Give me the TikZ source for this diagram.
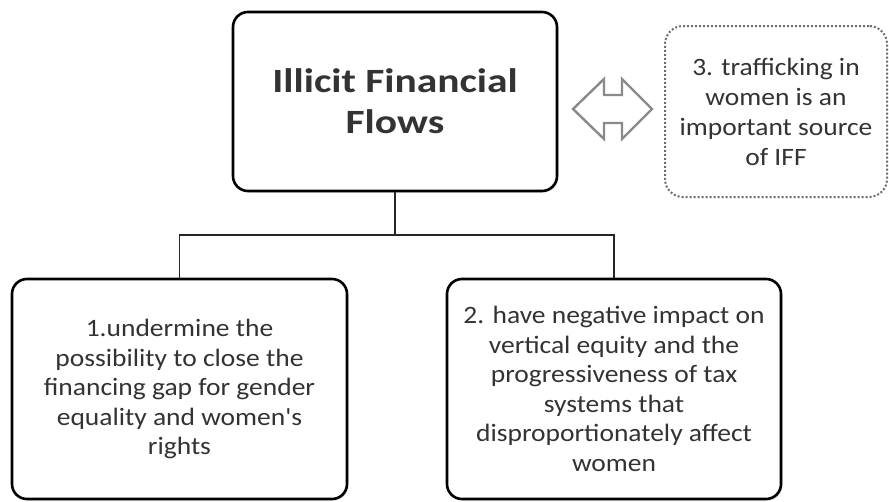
\documentclass[tikz,border=0pt]{standalone}
\usepackage{fontspec}
\setmainfont{Carlito}
\newfontfamily\bodyfont[FakeStretch=1.1]{Carlito}
\newfontfamily\titlefont[FakeStretch=1.22]{Carlito}
\usetikzlibrary{shadows}
\definecolor{txt}{HTML}{333333}
\definecolor{arrowgray}{HTML}{8A8A8A}
\definecolor{dotgray}{HTML}{6E6E6E}
\begin{document}
\begin{tikzpicture}[x=1pt,y=-1pt,
  box/.style={draw=black, line width=2.6pt, rounded corners=15pt, fill=white,
    inner sep=0pt, align=center, text=txt,
    drop shadow={opacity=0.25, shadow xshift=1.5pt, shadow yshift=-1.5pt}},
  bodytext/.style={font=\bodyfont\fontsize{25}{29.5}\selectfont},
  dotbox/.style={draw=dotgray, line width=2pt, dotted, rounded corners=18pt, fill=white,
    inner sep=0pt, align=center, text=txt, font=\bodyfont\fontsize{25}{30}\selectfont},
  link/.style={draw=black!85, line width=1.8pt},
  dblarrow/.style={draw=arrowgray, line width=2.4pt, line join=miter, fill=white}
]
\useasboundingbox (0,0) rectangle (889,501);
\fill[white] (0,0) rectangle (889,501);

\node[box, minimum width=324pt, minimum height=179pt,
      font=\titlefont\bfseries\fontsize{34}{41}\selectfont] (top) at (395,101.5)
  {Illicit Financial\\Flows};

\node[box, bodytext, minimum width=335pt, minimum height=220pt] (left) at (179.5,389)
  {1.undermine the\\possibility to close the\\financing gap for gender\\equality and women's\\rights};

\node[box, bodytext, minimum width=334pt, minimum height=220pt] (right) at (614,389)
  {2. have negative impact on\\vertical equity and the\\progressiveness of tax\\systems that\\disproportionately affect\\women};

\node[dotbox, minimum width=222pt, minimum height=171pt] (iff) at (776,111.5)
  {3. trafficking in\\women is an\\important source\\of IFF};

% double-headed hollow arrow
\draw[dblarrow] (573,109) -- (604,79) -- (604,95) -- (622,95) -- (622,79) -- (652,109)
  -- (622,139) -- (622,123) -- (604,123) -- (604,139) -- cycle;

% tree connectors
\coordinate (j) at (top.south |- 0,235);
\draw[link] (top.south) -- (j);
\draw[link] (left.north) |- (j) -| (right.north);
\end{tikzpicture}
\end{document}
